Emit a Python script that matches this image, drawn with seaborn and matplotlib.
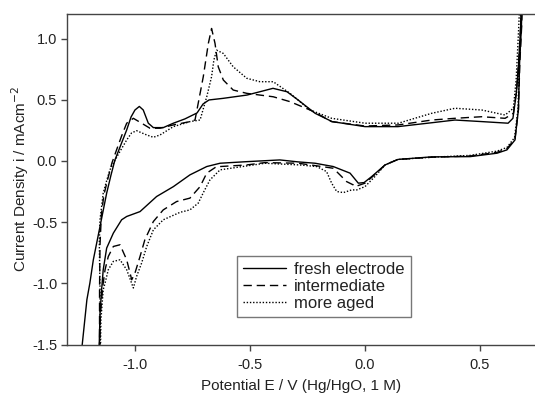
import matplotlib
matplotlib.use("Agg")
import matplotlib.pyplot as plt
import seaborn as sns
import pandas as pd

# ---- data: potential E (V) and current density i (mA cm^-2), full CV loops ----
fresh_E = [-1.232, -1.209, -1.196, -1.181, -1.152, -1.123, -1.104, -1.087, -1.058, -1.036,
           -1.017, -1.000, -0.981, -0.964, -0.942, -0.920, -0.877, -0.833, -0.783, -0.730,
           -0.704, -0.678, -0.617, -0.513, -0.457, -0.400, -0.339, -0.291, -0.217, -0.143,
           0.000, 0.143, 0.291, 0.391, 0.509, 0.622, 0.643, 0.657, 0.667, 0.676, 0.683,
           0.680, 0.672, 0.667, 0.652, 0.617, 0.574, 0.457, 0.290, 0.143, 0.087, 0.029,
           -0.004, -0.029, -0.065, -0.138, -0.217, -0.291, -0.370, -0.513, -0.630, -0.688,
           -0.761, -0.833, -0.906, -0.978, -1.036, -1.058, -1.094, -1.123, -1.138, -1.145,
           -1.152, -1.156]
fresh_i = [-1.55, -1.134, -0.998, -0.808, -0.536, -0.263, -0.114, 0.008, 0.147, 0.253,
           0.359, 0.416, 0.445, 0.416, 0.308, 0.272, 0.272, 0.308, 0.343, 0.392,
           0.465, 0.498, 0.511, 0.538, 0.565, 0.593, 0.565, 0.498, 0.389, 0.321,
           0.280, 0.280, 0.312, 0.334, 0.321, 0.308, 0.348, 0.538, 0.769, 1.069, 1.35,
           1.10, 0.80, 0.42, 0.171, 0.090, 0.063, 0.035, 0.033, 0.012, -0.033, -0.128,
           -0.177, -0.182, -0.100, -0.046, -0.019, -0.008, 0.008, -0.006, -0.019, -0.046,
           -0.114, -0.210, -0.291, -0.414, -0.454, -0.481, -0.590, -0.712, -0.889, -1.052,
           -1.25, -1.55]

inter_E = [-1.154, -1.154, -1.152, -1.146, -1.135, -1.117, -1.100, -1.080, -1.058, -1.036,
           -1.007, -0.971, -0.935, -0.891, -0.833, -0.761, -0.739, -0.703, -0.681, -0.667,
           -0.652, -0.638, -0.616, -0.573, -0.514, -0.457, -0.399, -0.326, -0.239, -0.210,
           -0.145, 0.000, 0.145, 0.290, 0.391, 0.507, 0.609, 0.645, 0.659, 0.670, 0.678, 0.685,
           0.681, 0.673, 0.667, 0.652, 0.617, 0.574, 0.457, 0.290, 0.143, 0.087, 0.058, 0.000,
           -0.043, -0.051, -0.080, -0.109, -0.138, -0.188, -0.290, -0.435, -0.514, -0.630,
           -0.645, -0.688, -0.717, -0.761, -0.819, -0.877, -0.920, -0.957, -0.978, -1.000,
           -1.014, -1.036, -1.065, -1.094, -1.116, -1.130, -1.140, -1.152, -1.154]
inter_i = [-1.55, -1.05, -0.685, -0.44, -0.277, -0.139, -0.016, 0.090, 0.204, 0.308,
           0.348, 0.308, 0.267, 0.267, 0.294, 0.321, 0.334, 0.688, 0.960, 1.082,
           0.960, 0.769, 0.661, 0.579, 0.552, 0.538, 0.524, 0.484, 0.416, 0.389,
           0.321, 0.285, 0.294, 0.334, 0.348, 0.361, 0.348, 0.389, 0.579, 0.865, 1.15, 1.35,
           1.10, 0.80, 0.42, 0.18, 0.10, 0.07, 0.040, 0.030, 0.012, -0.033, -0.087, -0.182,
           -0.210, -0.196, -0.169, -0.114, -0.060, -0.046, -0.019, -0.014, -0.033, -0.046,
           -0.046, -0.100, -0.210, -0.304, -0.332, -0.400, -0.495, -0.644, -0.781, -0.916,
           -0.971, -0.808, -0.685, -0.699, -0.781, -0.889, -1.025, -1.297, -1.55]

aged_E = [-1.152, -1.152, -1.155, -1.152, -1.138, -1.122, -1.109, -1.074, -1.036, -1.015,
          -0.993, -0.949, -0.920, -0.891, -0.833, -0.761, -0.717, -0.688, -0.667, -0.657,
          -0.645, -0.616, -0.573, -0.514, -0.457, -0.399, -0.326, -0.239, -0.145, 0.000,
          0.145, 0.290, 0.391, 0.507, 0.609, 0.645, 0.657, 0.667, 0.674,
          0.678, 0.670, 0.665, 0.650, 0.617, 0.574, 0.457, 0.290, 0.143, 0.087, 0.043,
          0.000, -0.036, -0.058, -0.094, -0.123, -0.145, -0.167, -0.210, -0.283, -0.435,
          -0.514, -0.630, -0.674, -0.703, -0.725, -0.761, -0.804, -0.877, -0.920, -0.949,
          -0.971, -0.993, -1.007, -1.036, -1.065, -1.094, -1.116, -1.130, -1.138, -1.148,
          -1.150]
aged_i = [-1.55, -1.052, -0.671, -0.481, -0.263, -0.155, -0.073, 0.049, 0.171, 0.228,
          0.247, 0.212, 0.193, 0.212, 0.280, 0.321, 0.334, 0.524, 0.688, 0.824,
          0.905, 0.878, 0.769, 0.675, 0.647, 0.647, 0.552, 0.416, 0.348, 0.308,
          0.308, 0.389, 0.430, 0.416, 0.375, 0.430, 0.661, 1.042, 1.35,
          1.10, 0.80, 0.42, 0.19, 0.11, 0.08, 0.045, 0.030, 0.012, -0.033, -0.128,
          -0.210, -0.237, -0.237, -0.259, -0.250, -0.182, -0.087, -0.046, -0.033, -0.019,
          -0.041, -0.073, -0.155, -0.260, -0.345, -0.400, -0.420, -0.481, -0.563, -0.699,
          -0.834, -0.944, -1.038, -0.889, -0.808, -0.821, -0.889, -0.998, -1.052, -1.297,
          -1.55]

series_labels = ["fresh electrode", "intermediate", "more aged"]
x_ticks = [-1.0, -0.5, 0.0, 0.5]
y_ticks = [-1.5, -1.0, -0.5, 0.0, 0.5, 1.0]

sns.set_theme(style="ticks")
plt.rcParams["font.family"] = ["Liberation Sans", "DejaVu Sans"]
plt.rcParams["axes.unicode_minus"] = False

fig = plt.figure(figsize=(5.35, 3.96), dpi=100)
ax = fig.add_axes([0.125, 0.130, 0.875, 0.8346])

styles = ["-", (0, (6, 3.5)), (0, (1, 1.3))]
for E, I, lab, ls in zip([fresh_E, inter_E, aged_E], [fresh_i, inter_i, aged_i],
                         series_labels, styles):
    df = pd.DataFrame({"E": E, "i": I})
    sns.lineplot(data=df, x="E", y="i", sort=False, estimator=None, ax=ax,
                 color="black", linewidth=1.0, linestyle=ls, label=lab)

ax.set_xlim(-1.296, 0.739)
ax.set_ylim(-1.5, 1.2)
ax.set_xticks(x_ticks)
ax.set_yticks(y_ticks)
ax.set_xticklabels([f"{v:.1f}" for v in x_ticks])
ax.set_yticklabels([f"{v:.1f}" for v in y_ticks])

for side in ["left", "bottom", "top"]:
    ax.spines[side].set_visible(True)
    ax.spines[side].set_color("#444444")
    ax.spines[side].set_linewidth(1.0)
ax.spines["right"].set_visible(False)

ax.tick_params(axis="both", direction="out", length=4, width=1, color="#444444",
               labelsize=10.5, labelcolor="#222222")
ax.tick_params(axis="x", pad=6)
ax.tick_params(axis="y", pad=3)

ax.set_xlabel("Potential E / V (Hg/HgO, 1 M)", fontsize=11, color="#222222", labelpad=5)
ax.set_ylabel("Current Density i / mAcm$^{-2}$", fontsize=11, color="#222222", labelpad=1)

leg = ax.legend(loc="lower left", bbox_to_anchor=(0.363, 0.083), borderaxespad=0,
                fontsize=12, frameon=True, fancybox=False, edgecolor="#777777",
                framealpha=1, handlelength=2.6, handletextpad=0.5, labelspacing=0.12,
                borderpad=0.35)
leg.get_frame().set_linewidth(1.0)
for t in leg.get_texts():
    t.set_color("#222222")

fig.savefig("out.png", dpi=100)
